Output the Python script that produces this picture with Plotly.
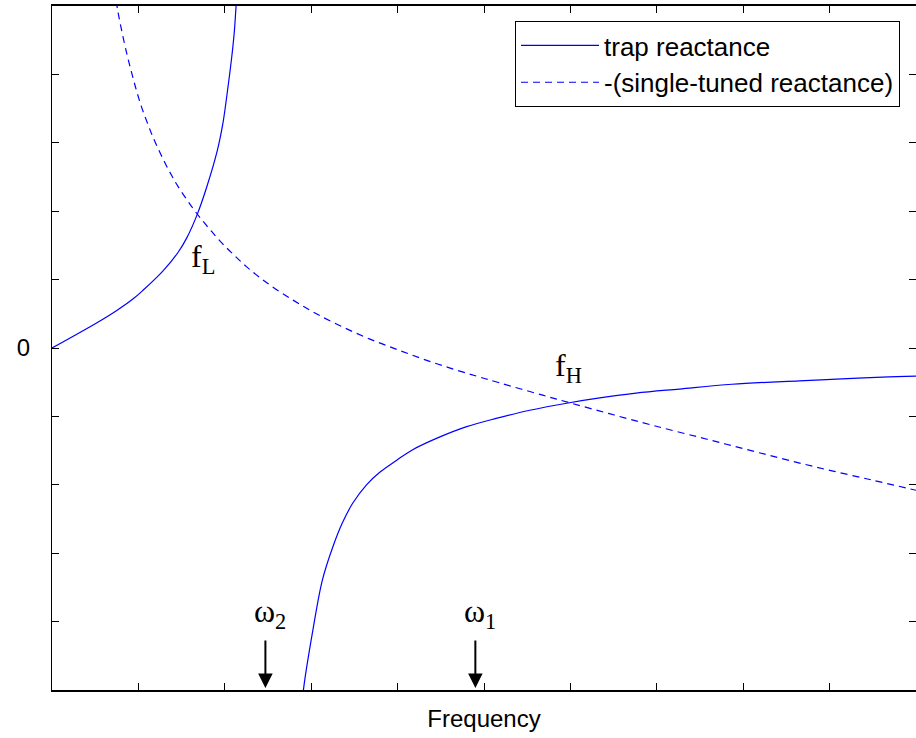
import plotly.graph_objects as go

# Trap reactance, low-frequency branch (below the parallel resonance)
trap_low_f = [0.00, 0.52, 0.75, 0.94, 1.05, 1.28, 1.46, 1.56, 1.68, 1.79, 1.91, 1.98, 2.03, 2.08, 2.11, 2.13, 2.16]
trap_low_x = [0.00, 0.37, 0.55, 0.72, 0.84, 1.12, 1.40, 1.61, 1.95, 2.35, 2.87, 3.30, 3.75, 4.25, 4.62, 4.99, 5.50]

# Trap reactance, high-frequency branch (above the parallel resonance)
trap_high_f = [2.88, 2.91, 3.02, 3.13, 3.25, 3.36, 3.48, 3.64, 3.79, 3.99, 4.17, 4.49, 4.80, 5.14, 5.53,
               5.99, 6.34, 6.76, 7.26, 7.87, 8.65, 9.08, 9.61, 10.00]
trap_high_x = [-5.50, -5.00, -4.12, -3.39, -2.91, -2.56, -2.27, -2.00, -1.82, -1.64, -1.49, -1.30, -1.15, -1.03, -0.91,
               -0.80, -0.73, -0.66, -0.60, -0.53, -0.48, -0.455, -0.425, -0.41]

# Negated single-tuned filter reactance
st_f = [0.72, 0.76, 0.81, 0.87, 0.91, 0.95, 0.99, 1.04, 1.11, 1.16, 1.23, 1.31, 1.39, 1.46, 1.56, 1.65, 1.75,
        1.85, 1.97, 2.09, 2.25, 2.49, 2.79, 3.06, 3.36, 3.68, 3.99, 4.29, 4.60, 4.91, 5.18, 5.68, 5.99,
        6.45, 6.95, 7.57, 8.18, 8.84, 9.49, 10.00]
st_x = [5.25, 4.94, 4.62, 4.28, 4.08, 3.89, 3.71, 3.51, 3.27, 3.11, 2.91, 2.70, 2.51, 2.36, 2.17, 2.01, 1.85,
        1.70, 1.53, 1.38, 1.19, 0.95, 0.70, 0.50, 0.31, 0.13, -0.02, -0.16, -0.29, -0.41, -0.51, -0.69, -0.80,
        -0.96, -1.13, -1.33, -1.53, -1.74, -1.93, -2.08]

# Marked frequencies
omega2 = 2.47
omega1 = 4.90
f_low = (1.68, 1.95)
f_high = (5.99, -0.80)

x_ticks = list(range(0, 11))
y_ticks = list(range(-5, 6))
y_ticktext = ["0" if v == 0 else "" for v in y_ticks]

BLUE = "#0000ff"
SANS = "Liberation Sans, Arial, sans-serif"
SERIF = "Liberation Serif, Times New Roman, serif"

fig = go.Figure()
fig.add_trace(go.Scatter(x=trap_low_f, y=trap_low_x, mode="lines", line=dict(color=BLUE, width=1.2, shape="spline"),
                         name="trap reactance", legendgroup="a"))
fig.add_trace(go.Scatter(x=trap_high_f, y=trap_high_x, mode="lines", line=dict(color=BLUE, width=1.2, shape="spline"),
                         name="trap reactance", showlegend=False, legendgroup="a"))
fig.add_trace(go.Scatter(x=st_f, y=st_x, mode="lines", line=dict(color=BLUE, width=1.2, dash="7px,5px", shape="spline"),
                         name="-(single-tuned reactance)", legendgroup="b"))

# Crossing labels
fig.add_annotation(x=f_low[0], y=f_low[1], text="f<sub>L</sub>", showarrow=False, xanchor="center", yanchor="top",
                   xshift=6, yshift=-21, font=dict(family=SERIF, size=32, color="black"))
fig.add_annotation(x=f_high[0], y=f_high[1], text="f<sub>H</sub>", showarrow=False, xanchor="center", yanchor="bottom",
                   xshift=-1, yshift=13, font=dict(family=SERIF, size=32, color="black"))

# Resonance markers on the frequency axis
for w, lab in [(omega2, "ω<sub>2</sub>"), (omega1, "ω<sub>1</sub>")]:
    fig.add_annotation(x=w, y=-4.97, text="", showarrow=True, ax=0, ay=-49, axref="pixel", ayref="pixel",
                       arrowhead=2, arrowsize=1.45, arrowwidth=2, arrowcolor="black")
    fig.add_annotation(x=w, y=-4.97, text=lab, showarrow=False, xanchor="center", yanchor="bottom",
                       xshift=5, yshift=52, font=dict(family=SERIF, size=32, color="black"))

fig.update_layout(
    width=916, height=738,
    margin=dict(l=52, r=0, t=6, b=48),
    paper_bgcolor="white", plot_bgcolor="white",
    font=dict(family=SANS, size=24, color="black"),
    showlegend=True,
    legend=dict(x=0.9815, y=0.978, xanchor="right", yanchor="top", bordercolor="black", borderwidth=1,
                bgcolor="white", font=dict(family=SANS, size=26), itemwidth=78, tracegroupgap=0),
    xaxis=dict(range=[0, 10], tickvals=x_ticks, ticktext=[""] * len(x_ticks), ticks="inside", ticklen=7,
               tickcolor="black", showline=True, linecolor="black", linewidth=2, mirror="ticks",
               showgrid=False, zeroline=False,
               title=dict(text="Frequency", font=dict(family=SANS, size=24), standoff=14)),
    yaxis=dict(range=[-5, 5], tickvals=y_ticks, ticktext=y_ticktext, ticks="inside", ticklen=7,
               tickcolor="black", showline=True, linecolor="black", linewidth=1, mirror="ticks",
               showgrid=False, zeroline=False, ticklabelstandoff=16, tickfont=dict(family=SANS, size=24)),
)

fig.write_html("out.html")
